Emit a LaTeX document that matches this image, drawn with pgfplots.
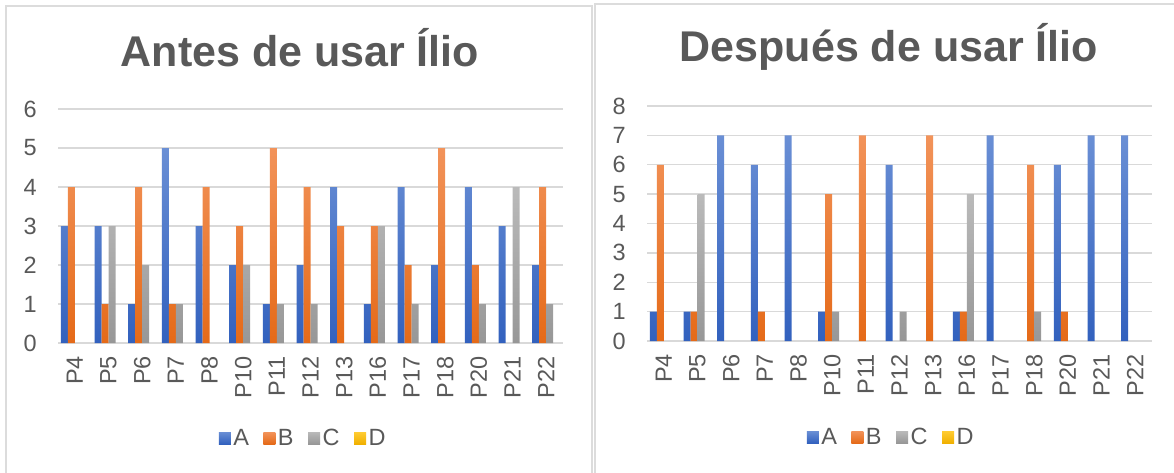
\documentclass[border=0pt]{standalone}
\usepackage{pgfplots}
\pgfplotsset{compat=1.18}
\usepackage{fontspec}
\setmainfont{Liberation Sans}

\definecolor{textgray}{HTML}{595959}
\definecolor{gridgray}{HTML}{D9D9D9}
\definecolor{framegray}{HTML}{DCDCDC}
\definecolor{Atop}{HTML}{6A8FD5}
\definecolor{Abot}{HTML}{3261BE}
\definecolor{Btop}{HTML}{F2935A}
\definecolor{Bbot}{HTML}{E56A18}
\definecolor{Ctop}{HTML}{BABABA}
\definecolor{Cbot}{HTML}{979797}
\definecolor{Dtop}{HTML}{FFCC33}
\definecolor{Dbot}{HTML}{F0B000}

\pgfplotsset{
  panel/.style={
    scale only axis, width=505pt, ybar, bar width=7pt,
    xmin=-0.5, xmax=14.5, ymin=0,
    xtick={0,...,14},
    xticklabels={P4,P5,P6,P7,P8,P10,P11,P12,P13,P16,P17,P18,P20,P21,P22},
    axis line style={draw=none}, major tick length=0pt,
    ymajorgrids, grid style={gridgray, line width=1.4pt},
    tick label style={font=\fontsize{23.5}{28}\selectfont, text=textgray},
    /pgf/number format/assume math mode=true,
    yticklabel style={anchor=east, inner sep=0pt, xshift=-21pt},
    xticklabel style={yshift=-13pt, rotate=90, anchor=east, inner sep=0pt},
    legend columns=-1,
    legend style={draw=none, fill=none, anchor=center,
      font=\fontsize{23.5}{28}\selectfont, text=textgray,
      nodes={inner xsep=2.5pt, inner ysep=1pt},
      /tikz/every even column/.append style={column sep=12pt}},
    legend image code/.code={\path[##1] (0pt,-6pt) rectangle (12pt,6pt);},
    title style={font=\fontsize{43}{50}\selectfont\bfseries, text=textgray, anchor=base},
  },
  serA/.style={draw=none, top color=Atop, bottom color=Abot, bar shift=-10.5pt},
  serB/.style={draw=none, top color=Btop, bottom color=Bbot, bar shift=-3.5pt},
  serC/.style={draw=none, top color=Ctop, bottom color=Cbot, bar shift=3.5pt},
  serD/.style={draw=none, top color=Dtop, bottom color=Dbot, bar shift=10.5pt},
}

\begin{document}
\begin{tikzpicture}[x=1pt,y=1pt]
\useasboundingbox (0,0) rectangle (1174,472);
% chart frames
\draw[framegray, line width=2pt] (6,-2) -- (6,466) -- (592,466) -- (592,-2);
\draw[framegray, line width=2pt] (595,-2) -- (595,468) -- (1178,468);

% before
\begin{axis}[panel, at={(58pt,129pt)}, anchor=south west,
  height=234pt, ymax=6, ytick={0,...,6},
  title={Antes de usar Ílio}, title style={at={(0.479,1.158)}},
  legend style={at={(0.486,-0.406)}}]
\addplot[serA] coordinates {(0,3) (1,3) (2,1) (3,5) (4,3) (5,2) (6,1) (7,2) (8,4) (9,1) (10,4) (11,2) (12,4) (13,3) (14,2)};
\addlegendentry{A}
\addplot[serB] coordinates {(0,4) (1,1) (2,4) (3,1) (4,4) (5,3) (6,5) (7,4) (8,3) (9,3) (10,2) (11,5) (12,2) (14,4)};
\addlegendentry{B}
\addplot[serC] coordinates {(1,3) (2,2) (3,1) (5,2) (6,1) (7,1) (9,3) (10,1) (12,1) (13,4) (14,1)};
\addlegendentry{C}
\addlegendimage{serD}
\addlegendentry{D}
\end{axis}

% after
\begin{axis}[panel, at={(647pt,131pt)}, anchor=south west,
  height=235pt, ymax=8, ytick={0,...,8},
  title={Después de usar Ílio}, title style={at={(0.479,1.162)}},
  legend style={at={(0.484,-0.409)}}]
\addplot[serA] coordinates {(0,1) (1,1) (2,7) (3,6) (4,7) (5,1) (7,6) (9,1) (10,7) (12,6) (13,7) (14,7)};
\addlegendentry{A}
\addplot[serB] coordinates {(0,6) (1,1) (3,1) (5,5) (6,7) (8,7) (9,1) (11,6) (12,1)};
\addlegendentry{B}
\addplot[serC] coordinates {(1,5) (5,1) (7,1) (9,5) (11,1)};
\addlegendentry{C}
\addlegendimage{serD}
\addlegendentry{D}
\end{axis}
\end{tikzpicture}
\end{document}
